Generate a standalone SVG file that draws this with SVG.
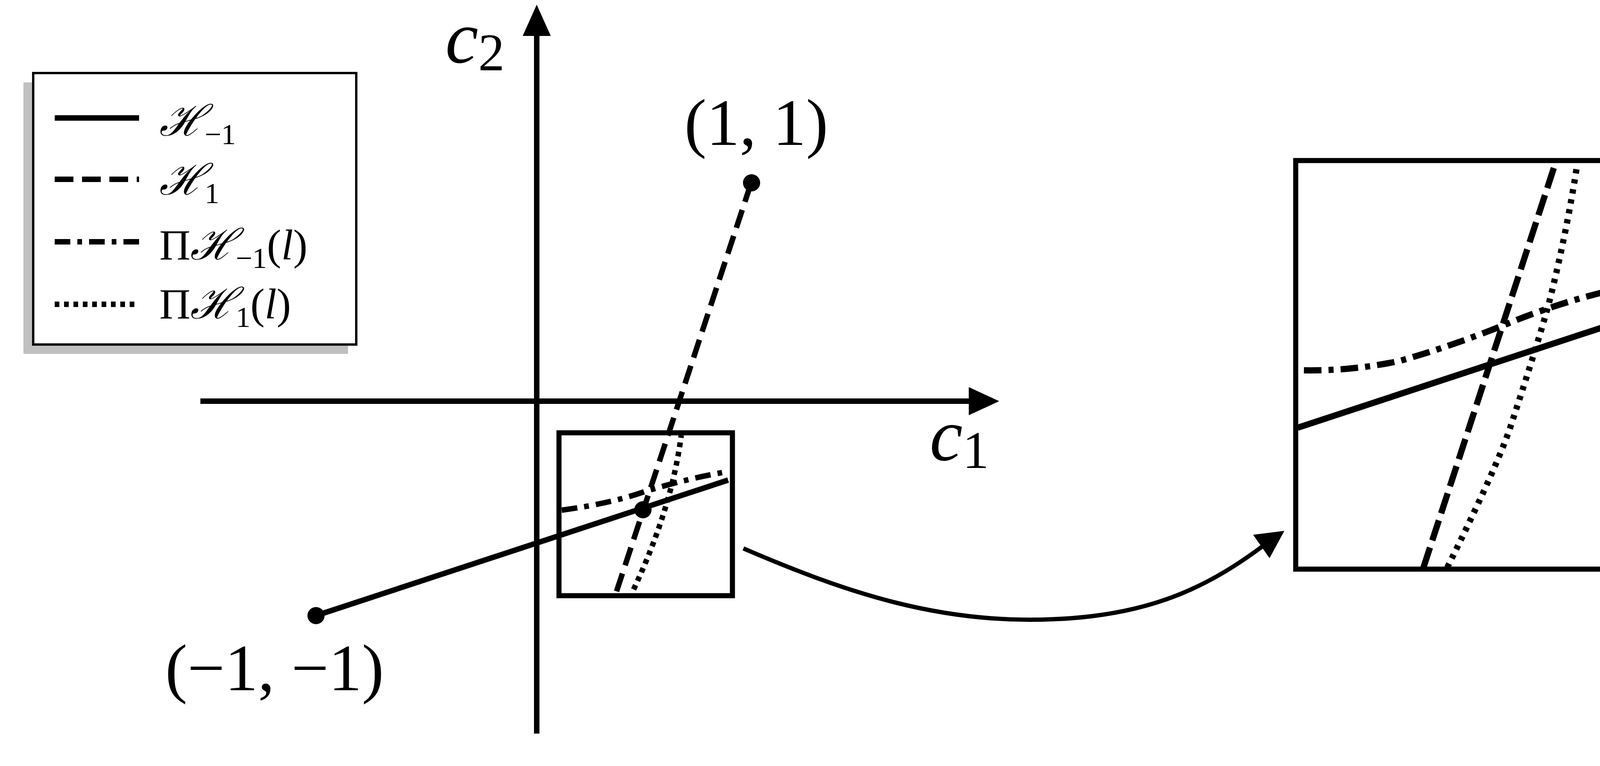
<svg xmlns="http://www.w3.org/2000/svg" width="4736" height="1961" viewBox="0 0 4736 1961">
<style>
.t{font-family:"Liberation Serif","DejaVu Serif",serif;fill:#000}
.ln{fill:none;stroke:#000;stroke-width:14}
.dsh{stroke-dasharray:48 22}
.dd{stroke-dasharray:40 18 12 18}
.dot{stroke-dasharray:12 12}
.z{stroke-width:16}
</style>
<rect width="4736" height="1961" fill="#fff"/>
<g id="legend">
<rect x="60" y="211" width="831" height="695" fill="#c0c0c0"/>
<rect x="85" y="187" width="827" height="695" fill="#fff" stroke="#000" stroke-width="6"/>
<line class="ln" x1="140" y1="302" x2="356" y2="302"/>
<line class="ln dsh" x1="140" y1="459" x2="356" y2="459"/>
<line class="ln dd" x1="140" y1="619" x2="356" y2="619"/>
<line class="ln dot" x1="140" y1="779" x2="356" y2="779"/>
<text class="t" x="408" y="347" font-size="110" font-style="italic">ℋ<tspan font-size="75" font-style="normal" dy="22">−1</tspan></text>
<text class="t" x="408" y="498" font-size="110" font-style="italic">ℋ<tspan font-size="75" font-style="normal" dy="22">1</tspan></text>
<text class="t" x="408" y="664" font-size="110">Π<tspan font-style="italic">ℋ</tspan><tspan font-size="75" dy="22">−1</tspan><tspan dy="-22">(<tspan font-style="italic">l</tspan>)</tspan></text>
<text class="t" x="408" y="815" font-size="110">Π<tspan font-style="italic">ℋ</tspan><tspan font-size="75" dy="22">1</tspan><tspan dy="-22">(<tspan font-style="italic">l</tspan>)</tspan></text>
</g>
<g id="axes">
<line class="ln" x1="1374" y1="1878" x2="1374" y2="90"/>
<path d="M1374,12 L1338,92 L1410,92 z"/>
<line class="ln" x1="513" y1="1027" x2="2485" y2="1027"/>
<path d="M2558,1027 L2480,991 L2480,1063 z"/>
<text class="t" x="1140" y="160" font-size="190" font-style="italic">c<tspan font-size="135" font-style="normal" dy="20">2</tspan></text>
<text class="t" x="2380" y="1178" font-size="190" font-style="italic">c<tspan font-size="135" font-style="normal" dy="20">1</tspan></text>
<text class="t" x="1752" y="371" font-size="170">(1, 1)</text>
<text class="t" x="423" y="1767" font-size="170">(−1, −1)</text>
</g>
<g id="main-lines">
<line class="ln" x1="809" y1="1576" x2="1864" y2="1229"/>
<line class="ln dsh" x1="1922" y1="471" x2="1576" y2="1521"/>
<path class="ln dot" d="M1622,1509 Q1720,1300 1744,1114"/>
<path class="ln dd" d="M1438,1306 Q1560,1290 1652,1258 Q1760,1225 1859,1208"/>
<circle cx="1924" cy="468" r="22"/>
<circle cx="809" cy="1576" r="22"/>
<circle cx="1646" cy="1305" r="22"/>
<rect x="1431" y="1108" width="444" height="417" fill="none" stroke="#000" stroke-width="13"/>
</g>
<g id="connectors">
<path d="M1903,1404 C2150,1510 2400,1600 2700,1585 C2950,1575 3100,1500 3250,1385" fill="none" stroke="#000" stroke-width="11"/>
<path d="M3288,1359 L3208,1369 L3250,1429 z"/>
</g>
<g id="zoom">
<line class="ln z" x1="3322" y1="1095" x2="4340" y2="760"/>
<line class="ln z dsh" x1="3644" y1="1453" x2="3984" y2="411" style="stroke-dasharray:54 19"/>
<path class="ln z dot" d="M3705,1453 Q3830,1200 3866,1095 Q3940,870 3965,777 Q4010,600 4038,419" style="stroke-dasharray:11 15"/>
<path class="ln z dd" d="M3338,948 Q3460,950 3583,924 Q3720,885 3858,829 Q3990,775 4118,745 Q4230,718 4340,709" style="stroke-dasharray:45 18 13 18"/>
<rect x="3317" y="411" width="1027" height="1046" fill="none" stroke="#000" stroke-width="13"/>
</g>
</svg>
